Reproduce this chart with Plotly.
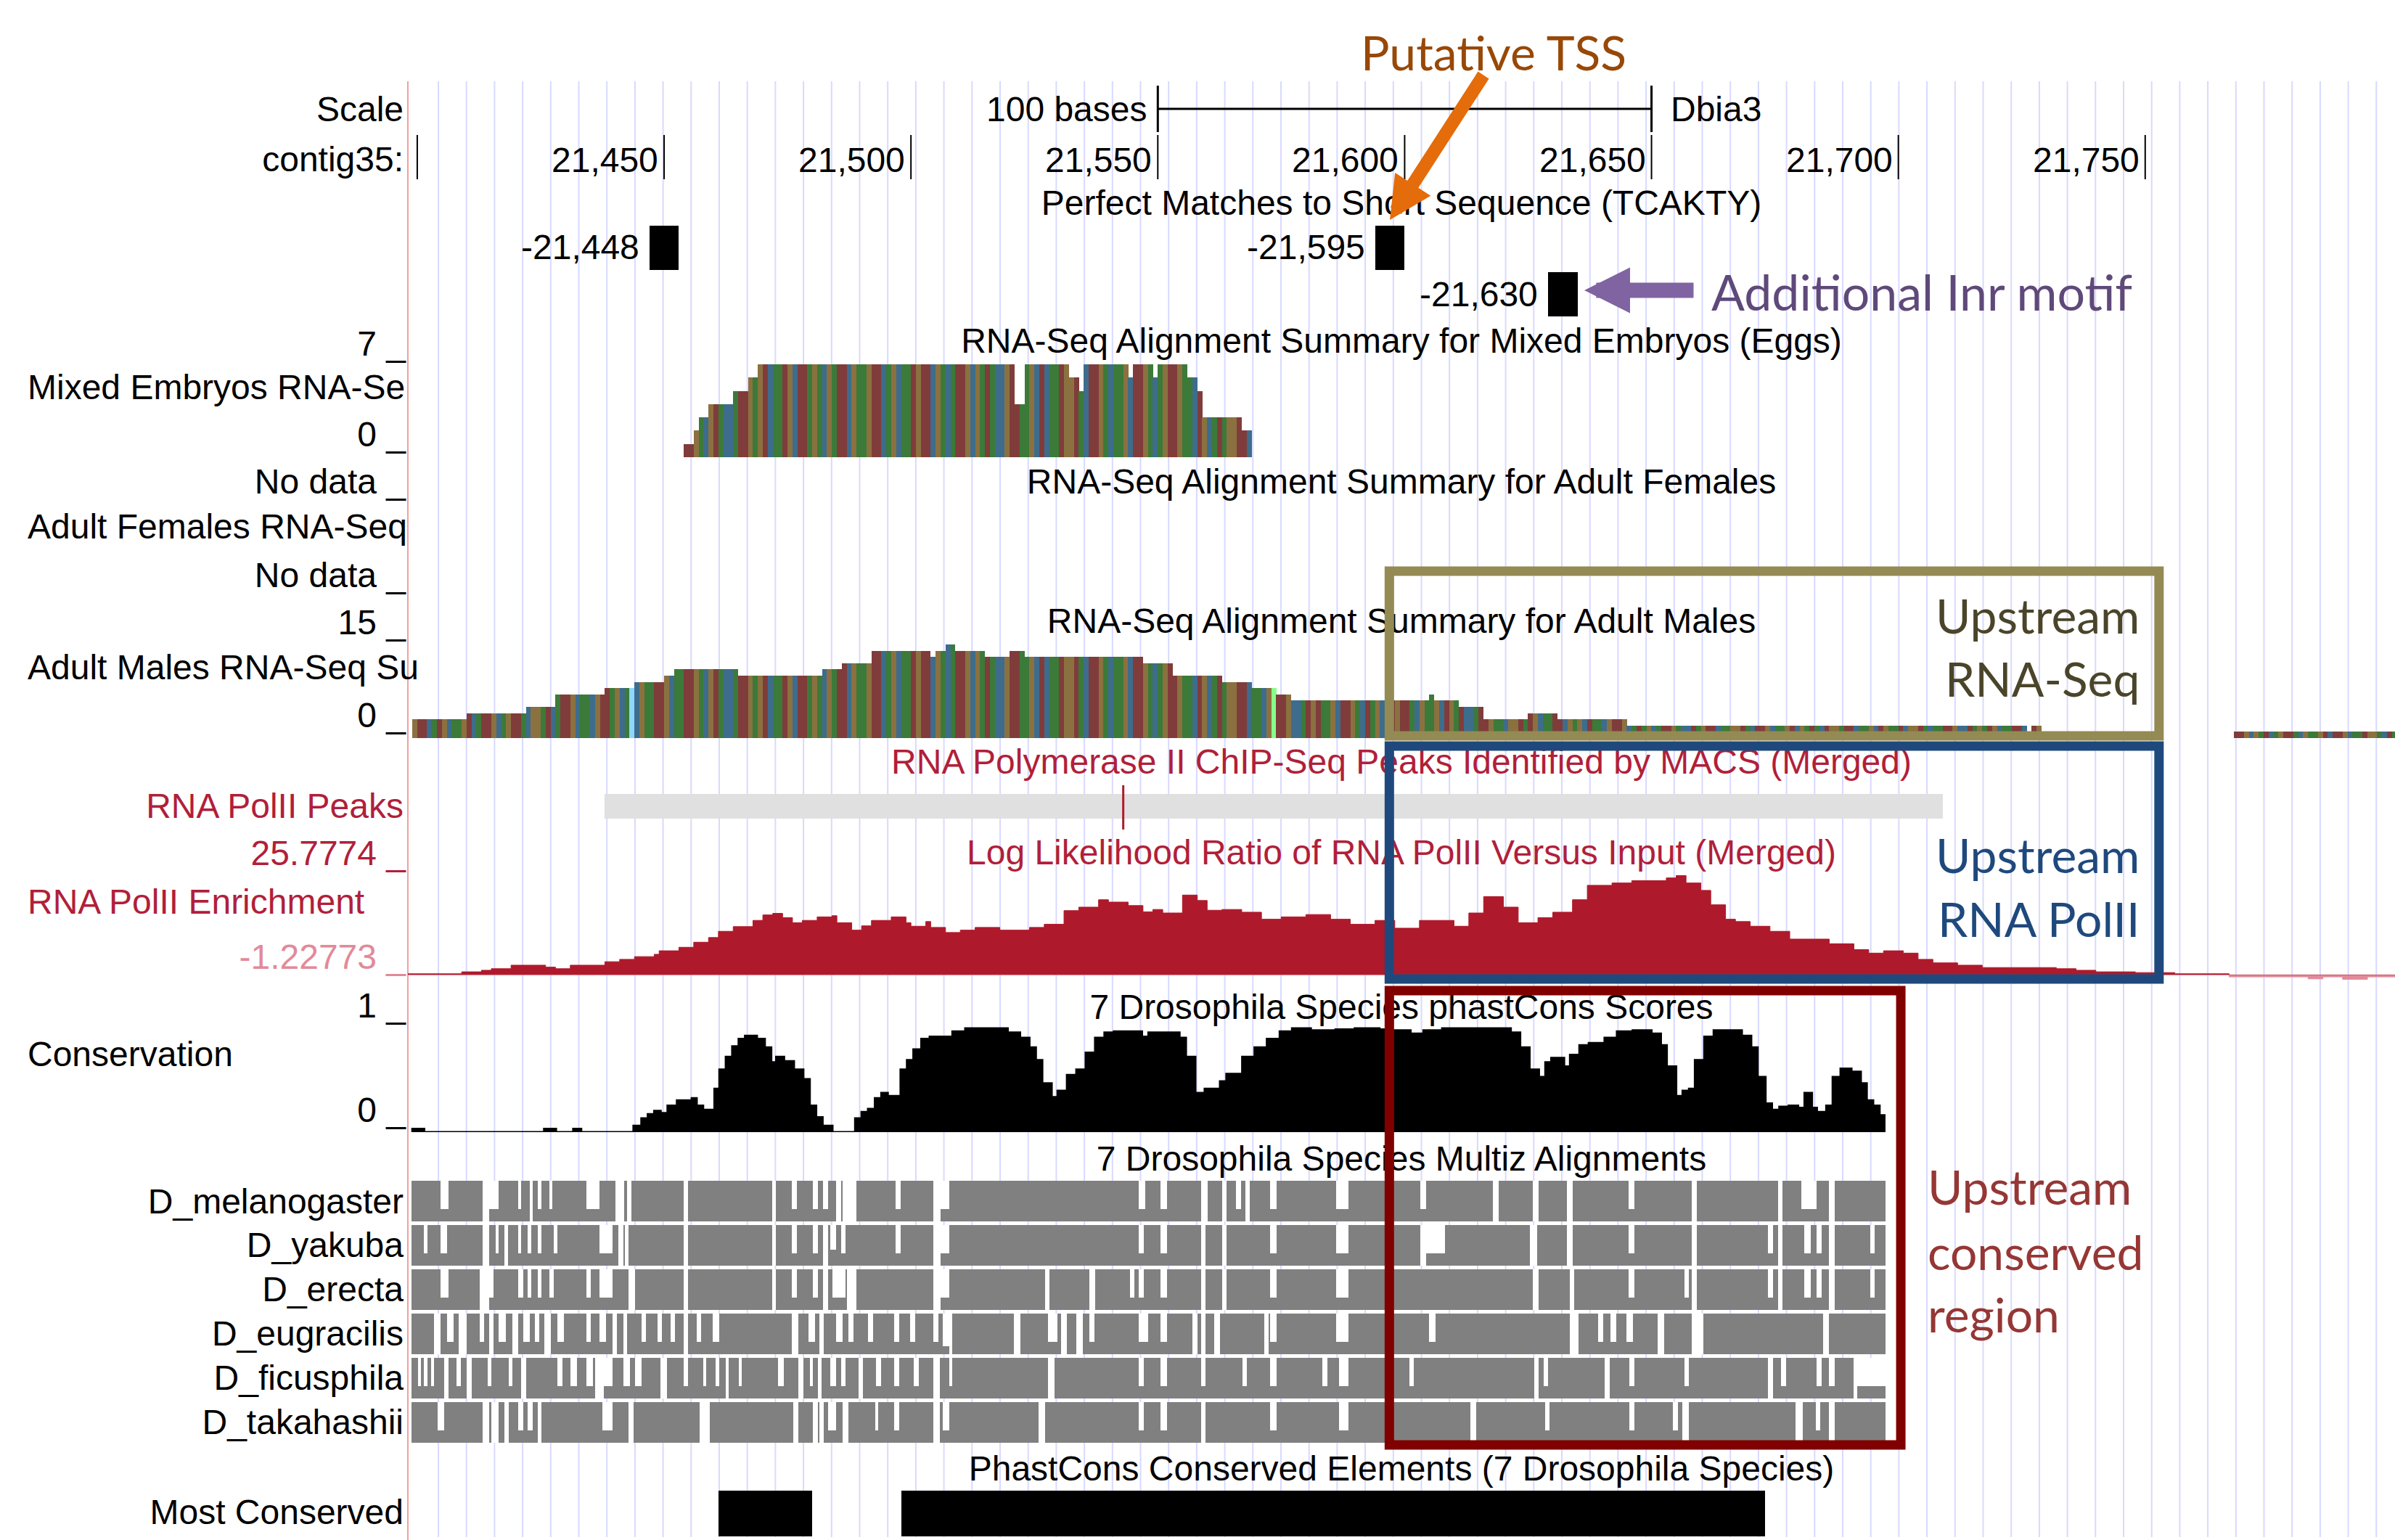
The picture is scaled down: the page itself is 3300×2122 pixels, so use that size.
import plotly.graph_objects as go

# ------------------------------------------------------------------ data
view_start = 21398.1
view_end = 21800.6

ruler_ticks = [21400, 21450, 21500, 21550, 21600, 21650, 21700, 21750]
ruler_labels = ["", "21,450", "21,500", "21,550", "21,600", "21,650", "21,700", "21,750"]
scale_bar = [21550, 21650]
scale_text = "100 bases"
assembly_text = "Dbia3"
chrom_text = "contig35:"

# Perfect matches to TCAKTY
match_pos = [21448, 21595, 21630]
match_row = [0, 0, 1]
match_labels = ["-21,448", "-21,595", "-21,630"]
motif_len = 6

# reference bases (colour of the RNA-seq coverage bars), first base = seq_start
seq_start = 21399
ref_sequence = (
    "GTTCATGCAAGTCATTGCAGTTACGGATCATTGCAACGTTAGCATCGAAT"
    "TGCAATTGACGTACCATTGAGTCAATGCTTAGACGATTCGAAGTTCAGCA"
    "ATGTTCGACATTGCGATACCGTTAAGCTCAATGGTACTTGACAAGCTTGA"
    "CAGTTGAACTGCATAGGTTCAACGATTGCCATGTAAGCTTGACTAGCATG"
    "TTACGAAGCTGATCCATTGAACGGTATGCAATTCGAGCTAACGTTGCATA"
    "GCATTGACCTAGTTCAAGGTACTTGCAAGTCGATACTGGATTCAAGCTGA"
    "ATCGGTACAATTGCCTAGATGCAATTCGTGAAGCTTACGATCAAGTGCTA"
    "CGTTAAGCATGCTTGACAATTGCGATCAGTTACGAAGTCTTGCAATGGAC"
    "TAGCATTGACGTTCAAGCTGAATCGTACCATGGATTGCAAGTTCGACATG"
)

# RNA-seq coverage, mixed embryos (runs: start, end, depth)
embryo_start = [21454, 21456, 21457, 21459, 21464, 21467, 21469, 21521, 21523, 21532,
                21534, 21535, 21544, 21545, 21549, 21550, 21556, 21558, 21559, 21567]
embryo_end = [21456, 21457, 21459, 21464, 21467, 21469, 21521, 21523, 21532, 21534,
              21535, 21544, 21545, 21549, 21550, 21556, 21558, 21559, 21567, 21569]
embryo_value = [1, 2, 3, 4, 5, 6, 7, 4, 7, 6, 5, 7, 6, 7, 6, 7, 6, 5, 3, 2]

# RNA-seq coverage, adult males
male_start = [21399, 21410, 21422, 21428, 21438, 21444, 21450, 21452, 21465, 21482,
              21486, 21492, 21504, 21505, 21507, 21509, 21515, 21520, 21523, 21547,
              21553, 21563, 21569, 21574, 21577, 21605, 21606, 21611, 21616, 21625,
              21631, 21645, 21726, 21727, 21729, 21768]
male_end = [21410, 21422, 21428, 21438, 21444, 21450, 21452, 21465, 21482, 21486,
            21492, 21504, 21505, 21507, 21509, 21515, 21520, 21523, 21547, 21553,
            21563, 21569, 21574, 21577, 21605, 21606, 21611, 21616, 21625, 21631,
            21645, 21726, 21727, 21729, 21750, 21801]
male_value = [3, 4, 5, 7, 8, 9, 10, 11, 10, 11, 12, 14, 13, 14, 15, 14, 13, 14, 13, 12,
              10, 9, 8, 7, 6, 7, 6, 5, 3, 4, 3, 2, 1, 2, 1, 1]
male_mismatch_pos = [21443, 21573]
male_mismatch_color = ["#8fd6ff", "#86ff8a"]

# RNA PolII MACS peak
peak_start, peak_end, peak_summit = 21438, 21709, 21543

# RNA PolII log-likelihood enrichment (step starts and values)
pol2_pos = [21398.1, 21409, 21413, 21415, 21419, 21426, 21428, 21431, 21438, 21441,
            21444, 21448, 21449, 21453, 21456, 21459, 21461, 21464, 21468, 21470,
            21472, 21474, 21476, 21478, 21481, 21484, 21485, 21488, 21490, 21492,
            21496, 21499, 21500, 21503, 21504, 21507, 21510, 21513, 21518, 21524,
            21527, 21531, 21534, 21538, 21540, 21544, 21547, 21549, 21551, 21555,
            21558, 21560, 21563, 21567, 21571, 21575, 21580, 21585, 21589, 21594,
            21598, 21603, 21610, 21613, 21616, 21620, 21623, 21627, 21630, 21634,
            21637, 21642, 21646, 21653, 21655, 21657, 21660, 21662, 21665, 21667,
            21670, 21674, 21678, 21686, 21691, 21694, 21697, 21701, 21704, 21707,
            21712, 21717, 21732, 21736, 21740, 21748, 21756, 21767, 21783, 21786,
            21790, 21795]
pol2_val = [0.3, 0.8, 1.2, 1.6, 2.5, 2.0, 1.6, 2.5, 3.4, 4.0,
            4.7, 5.3, 6.2, 7.1, 8.4, 9.6, 11.2, 12.4, 14.0, 15.4,
            15.8, 14.7, 13.4, 14.0, 14.9, 15.2, 13.4, 11.5, 12.6, 14.0,
            14.9, 13.4, 12.5, 13.7, 12.2, 10.9, 11.5, 12.2, 11.5, 12.2,
            13.0, 16.5, 17.4, 19.3, 18.7, 17.8, 16.2, 16.8, 15.9, 20.5,
            19.1, 16.6, 16.8, 16.1, 14.3, 14.9, 15.5, 14.3, 13.0, 14.0,
            12.0, 14.0, 12.5, 15.9, 20.1, 17.4, 13.4, 14.7, 16.1, 19.3,
            23.0, 23.6, 24.2, 24.9, 25.5, 23.6, 21.7, 18.0, 14.3, 13.7,
            12.5, 11.2, 9.2, 8.0, 6.5, 5.6, 6.2, 5.6, 4.0, 3.1,
            2.5, 1.9, 1.6, 1.2, 0.8, 0.6, 0.3, -0.5, -1.0, -0.5,
            -1.2, -0.5]
pol2_end = 21800.6
pol2_min, pol2_max = -1.22773, 25.7774

# phastCons scores (step starts and values)
cons_pos = [21398.8, 21401.4, 21425.7, 21428.1, 21431.6, 21433.2, 21443.8, 21445.4, 21446.7, 21448.0,
            21449.3, 21450.7, 21452.6, 21455.6, 21456.6, 21457.9, 21460.2, 21461.2, 21462.5, 21463.8,
            21465.1, 21466.4, 21468.8, 21470.4, 21471.7, 21472.7, 21474.3, 21476.3, 21478.2, 21479.5,
            21480.8, 21482.1, 21484.1, 21488.7, 21490.0, 21491.3, 21492.7, 21494.0, 21495.3, 21497.9,
            21499.2, 21500.5, 21502.1, 21503.8, 21508.4, 21511.0, 21519.6, 21522.1, 21524.0, 21525.3,
            21526.6, 21528.5, 21529.7, 21531.6, 21533.5, 21535.4, 21537.3, 21539.2, 21541.1, 21546.8,
            21548.1, 21554.4, 21555.7, 21557.6, 21559.5, 21562.6, 21563.9, 21567.1, 21569.6, 21572.1,
            21574.7, 21577.2, 21581.0, 21586.0, 21589.9, 21594.9, 21597.4, 21601.2, 21603.8, 21607.6,
            21621.5, 21623.4, 21625.3, 21627.2, 21628.5, 21629.7, 21632.3, 21633.5, 21635.4, 21637.3,
            21640.5, 21643.0, 21646.2, 21650.0, 21651.9, 21653.1, 21655.0, 21656.3, 21657.6, 21658.8,
            21660.7, 21662.6, 21668.3, 21670.2, 21671.5, 21673.1, 21674.4, 21675.9, 21677.8, 21679.7,
            21681.0, 21682.5, 21683.5, 21685.4, 21686.7, 21688.3, 21690.5, 21692.4, 21693.6, 21694.9,
            21696.2]
cons_val = [0.03, 0.0, 0.03, 0.0, 0.03, 0.0, 0.06, 0.13, 0.17, 0.20,
            0.18, 0.25, 0.30, 0.32, 0.25, 0.21, 0.41, 0.59, 0.71, 0.81,
            0.88, 0.91, 0.88, 0.80, 0.66, 0.71, 0.67, 0.59, 0.50, 0.25,
            0.14, 0.06, 0.0, 0.13, 0.19, 0.22, 0.32, 0.37, 0.34, 0.59,
            0.68, 0.78, 0.88, 0.90, 0.95, 0.98, 0.94, 0.89, 0.80, 0.68,
            0.46, 0.33, 0.39, 0.54, 0.59, 0.75, 0.89, 0.94, 0.95, 0.90,
            0.94, 0.89, 0.71, 0.37, 0.41, 0.48, 0.55, 0.71, 0.80, 0.88,
            0.95, 0.98, 0.96, 0.97, 0.98, 0.97, 0.96, 0.93, 0.96, 0.98,
            0.94, 0.80, 0.59, 0.52, 0.66, 0.70, 0.62, 0.73, 0.82, 0.84,
            0.89, 0.95, 0.96, 0.93, 0.82, 0.62, 0.34, 0.39, 0.41, 0.68,
            0.90, 0.96, 0.91, 0.80, 0.52, 0.27, 0.21, 0.24, 0.25, 0.23,
            0.37, 0.23, 0.19, 0.25, 0.52, 0.60, 0.57, 0.46, 0.30, 0.25,
            0.16]
cons_end = 21697.4

# Multiz alignments: aligned span and gaps (start, end, remaining height)
species = ["D_melanogaster", "D_yakuba", "D_erecta", "D_eugracilis", "D_ficusphila", "D_takahashii"]
aln_start, aln_end = 21398.8, 21697.4
gaps_melanogaster = [
    (21404.7, 21406.3, 0.3), (21413.2, 21414.6, 0.0), (21414.6, 21416.5, 0.3), (21420.5, 21421.1, 0.3),
    (21422.8, 21423.4, 0.0), (21424.4, 21425.1, 0.3), (21426.8, 21427.4, 0.3), (21434.2, 21436.9, 0.3),
    (21440.2, 21441.9, 0.0), (21442.5, 21443.4, 0.0), (21453.9, 21454.9, 0.0), (21471.9, 21472.7, 0.0),
    (21475.9, 21476.9, 0.3), (21480.2, 21481.1, 0.3), (21482.2, 21483.2, 0.3), (21484.8, 21485.8, 0.0),
    (21486.1, 21489.0, 0.0), (21496.9, 21497.9, 0.3), (21504.5, 21506.0, 0.0), (21506.0, 21507.7, 0.3),
    (21546.2, 21547.5, 0.3), (21550.6, 21551.9, 0.3), (21558.8, 21560.1, 0.0), (21563.0, 21563.9, 0.0),
    (21565.8, 21566.8, 0.3), (21567.7, 21568.6, 0.0), (21572.8, 21574.0, 0.3), (21586.1, 21588.6, 0.3),
    (21603.1, 21604.4, 0.3), (21617.9, 21619.0, 0.0), (21625.9, 21627.2, 0.0), (21632.9, 21634.1, 0.0),
    (21645.3, 21646.6, 0.3), (21658.2, 21659.2, 0.0), (21675.7, 21676.6, 0.0), (21680.4, 21683.5, 0.3),
    (21686.0, 21687.1, 0.0)]
gaps_yakuba = [
    (21401.4, 21402.1, 0.3), (21404.7, 21406.0, 0.3), (21413.2, 21414.6, 0.0), (21415.9, 21416.5, 0.3),
    (21417.6, 21418.4, 0.0), (21420.5, 21421.1, 0.3), (21422.4, 21423.1, 0.3), (21424.4, 21425.2, 0.3),
    (21427.7, 21428.4, 0.3), (21436.9, 21439.5, 0.3), (21440.8, 21441.7, 0.0), (21442.1, 21442.8, 0.0),
    (21453.9, 21454.9, 0.0), (21471.9, 21472.7, 0.0), (21475.9, 21476.9, 0.3), (21480.2, 21481.1, 0.3),
    (21482.2, 21483.2, 0.0), (21483.7, 21484.8, 0.4), (21485.8, 21486.7, 0.3), (21496.9, 21497.9, 0.3),
    (21504.5, 21506.0, 0.0), (21506.0, 21507.7, 0.3), (21546.2, 21547.1, 0.3), (21550.6, 21551.9, 0.3),
    (21558.8, 21559.7, 0.0), (21563.0, 21563.9, 0.0), (21572.8, 21574.0, 0.3), (21586.1, 21588.6, 0.3),
    (21603.1, 21604.4, 0.0), (21604.4, 21608.2, 0.3), (21625.3, 21626.8, 0.0), (21632.9, 21634.1, 0.0),
    (21645.3, 21646.6, 0.3), (21658.2, 21659.2, 0.0), (21673.6, 21674.6, 0.3), (21675.7, 21676.6, 0.0),
    (21681.0, 21682.2, 0.3), (21683.5, 21684.5, 0.3), (21686.0, 21687.1, 0.0), (21694.3, 21695.2, 0.3)]
gaps_erecta = [
    (21404.7, 21406.3, 0.3), (21412.6, 21414.6, 0.0), (21414.6, 21415.5, 0.3), (21420.5, 21421.5, 0.3),
    (21422.4, 21423.1, 0.3), (21424.4, 21425.2, 0.3), (21426.8, 21427.7, 0.3), (21434.2, 21435.2, 0.3),
    (21436.9, 21439.5, 0.3), (21442.8, 21444.1, 0.0), (21453.9, 21454.9, 0.0), (21471.9, 21472.7, 0.0),
    (21475.9, 21476.9, 0.3), (21480.2, 21481.1, 0.3), (21482.2, 21483.2, 0.0), (21484.1, 21486.7, 0.3),
    (21487.1, 21489.0, 0.0), (21504.5, 21506.0, 0.0), (21506.0, 21507.7, 0.3), (21527.2, 21528.1, 0.0),
    (21536.1, 21537.3, 0.0), (21544.3, 21545.3, 0.3), (21546.2, 21547.1, 0.3), (21550.6, 21551.9, 0.3),
    (21558.8, 21559.7, 0.0), (21563.0, 21563.9, 0.0), (21572.8, 21574.0, 0.3), (21586.1, 21588.6, 0.3),
    (21625.9, 21627.2, 0.0), (21633.5, 21634.4, 0.0), (21645.3, 21646.6, 0.3), (21656.7, 21657.6, 0.3),
    (21658.2, 21659.2, 0.0), (21673.6, 21674.6, 0.3), (21675.7, 21676.6, 0.0), (21681.0, 21682.2, 0.3),
    (21683.5, 21684.5, 0.3), (21686.0, 21687.1, 0.0), (21694.3, 21695.2, 0.3)]
gaps_eugracilis = [
    (21403.4, 21404.7, 0.0), (21406.0, 21407.4, 0.3), (21408.4, 21410.0, 0.0), (21412.6, 21413.6, 0.3),
    (21414.6, 21415.5, 0.0), (21416.5, 21417.9, 0.3), (21419.2, 21420.5, 0.0), (21421.5, 21422.8, 0.3),
    (21423.8, 21424.7, 0.3), (21425.7, 21427.0, 0.0), (21428.4, 21429.7, 0.3), (21434.2, 21435.2, 0.3),
    (21436.9, 21438.2, 0.3), (21439.5, 21440.4, 0.0), (21441.7, 21442.5, 0.0), (21445.4, 21446.3, 0.3),
    (21448.7, 21449.6, 0.3), (21451.3, 21452.2, 0.3), (21453.9, 21454.9, 0.0), (21456.6, 21457.5, 0.3),
    (21459.8, 21461.2, 0.3), (21475.9, 21477.2, 0.0), (21479.3, 21480.6, 0.3), (21481.5, 21482.4, 0.0),
    (21484.8, 21486.1, 0.3), (21487.4, 21488.4, 0.3), (21491.3, 21492.4, 0.3), (21496.6, 21497.6, 0.3),
    (21499.9, 21500.8, 0.3), (21504.5, 21505.5, 0.3), (21506.4, 21507.7, 0.2), (21507.7, 21508.4, 0.0),
    (21520.9, 21522.1, 0.0), (21527.8, 21529.7, 0.3), (21530.4, 21531.6, 0.0), (21533.5, 21534.8, 0.0),
    (21536.1, 21537.1, 0.3), (21546.2, 21548.1, 0.3), (21550.6, 21551.9, 0.3), (21557.0, 21558.0, 0.0),
    (21558.8, 21559.7, 0.0), (21561.4, 21562.6, 0.0), (21571.5, 21572.4, 0.0), (21572.8, 21574.0, 0.3),
    (21586.1, 21588.6, 0.3), (21605.0, 21606.3, 0.3), (21633.5, 21635.2, 0.0), (21639.2, 21640.2, 0.3),
    (21641.7, 21642.8, 0.3), (21644.9, 21646.2, 0.3), (21651.2, 21652.5, 0.0), (21658.2, 21660.5, 0.0),
    (21684.8, 21686.0, 0.0)]
gaps_ficusphila = [
    (21400.1, 21400.8, 0.3), (21401.4, 21402.1, 0.3), (21402.8, 21403.4, 0.3), (21405.4, 21406.3, 0.0),
    (21408.0, 21408.9, 0.3), (21410.0, 21411.0, 0.0), (21414.2, 21415.0, 0.3), (21418.5, 21419.2, 0.3),
    (21421.1, 21422.1, 0.0), (21428.4, 21429.4, 0.3), (21431.0, 21432.3, 0.3), (21434.2, 21435.6, 0.3),
    (21436.0, 21437.8, 0.0), (21437.8, 21439.5, 0.3), (21441.7, 21443.1, 0.3), (21444.1, 21445.4, 0.3),
    (21449.3, 21450.6, 0.0), (21453.9, 21454.9, 0.3), (21457.9, 21458.5, 0.3), (21460.5, 21461.2, 0.3),
    (21462.5, 21463.1, 0.0), (21465.1, 21465.7, 0.3), (21473.0, 21474.3, 0.3), (21477.2, 21478.2, 0.0),
    (21479.5, 21480.2, 0.3), (21481.1, 21481.9, 0.0), (21483.7, 21484.8, 0.3), (21485.8, 21486.7, 0.3),
    (21489.4, 21490.3, 0.0), (21492.9, 21494.0, 0.3), (21496.6, 21497.6, 0.3), (21500.5, 21501.6, 0.3),
    (21504.5, 21505.8, 0.0), (21507.7, 21508.4, 0.3), (21527.8, 21529.1, 0.0), (21546.2, 21547.1, 0.3),
    (21550.6, 21551.9, 0.3), (21558.8, 21559.7, 0.3), (21567.1, 21568.1, 0.3), (21572.8, 21574.0, 0.3),
    (21583.3, 21584.3, 0.3), (21586.7, 21588.6, 0.3), (21601.0, 21601.9, 0.3), (21626.3, 21627.2, 0.0),
    (21628.1, 21629.1, 0.3), (21640.5, 21641.5, 0.0), (21645.5, 21646.6, 0.3), (21656.7, 21657.6, 0.3),
    (21673.6, 21674.6, 0.0), (21676.2, 21677.2, 0.3), (21683.5, 21684.5, 0.3), (21686.0, 21687.1, 0.3),
    (21690.9, 21691.7, 0.0), (21691.7, 21697.4, 0.3)]
gaps_takahashii = [
    (21404.1, 21405.4, 0.3), (21413.2, 21414.6, 0.0), (21415.0, 21416.5, 0.0), (21417.6, 21418.5, 0.0),
    (21420.5, 21421.5, 0.3), (21422.4, 21423.4, 0.3), (21424.4, 21425.2, 0.0), (21437.5, 21439.5, 0.3),
    (21442.8, 21443.8, 0.0), (21457.2, 21459.2, 0.0), (21476.2, 21477.2, 0.0), (21480.2, 21481.1, 0.0),
    (21481.5, 21482.4, 0.0), (21483.2, 21484.8, 0.3), (21486.1, 21487.4, 0.0), (21492.7, 21493.3, 0.3),
    (21496.6, 21497.6, 0.3), (21504.5, 21505.8, 0.0), (21506.4, 21507.7, 0.3), (21525.9, 21527.2, 0.0),
    (21546.2, 21547.1, 0.3), (21550.6, 21551.9, 0.3), (21558.8, 21559.7, 0.0), (21572.8, 21574.0, 0.3),
    (21586.7, 21588.6, 0.3), (21613.3, 21614.5, 0.0), (21628.5, 21629.3, 0.3), (21645.5, 21646.6, 0.3),
    (21654.4, 21655.4, 0.3), (21656.3, 21657.6, 0.0), (21679.1, 21680.7, 0.0), (21683.3, 21684.1, 0.3),
    (21686.0, 21687.1, 0.0)]
species_gaps = [gaps_melanogaster, gaps_yakuba, gaps_erecta, gaps_eugracilis, gaps_ficusphila, gaps_takahashii]

# phastCons most-conserved elements
most_conserved_start = [21461, 21498]
most_conserved_end = [21480, 21673]

# highlighted regions (annotation boxes)
box_start = 21596.9
box_end_upper = 21752.8
box_end_cons = 21700.5

# ------------------------------------------------------------------ style
W, H = 3300, 2122
PANEL_LEFT = 562
FONT = "Liberation Sans, Arial, Helvetica, sans-serif"
FS = 48
OFONT = "Lato, Open Sans, sans-serif"
OFS = 66
BLACK = "#000000"
RED = "#b11f3a"
RED_FILL = "#ae1a2b"
PINK = "#e28a99"
GREY = "#808080"
BASE_COLORS = {"A": "#3b7a39", "C": "#3e6c8c", "G": "#8b7140", "T": "#803c3a"}
TY = 3  # vertical nudge for label text


def fy(px):
    return 1 - px / H


fig = go.Figure()
axes = {}


def add_y(name, top, bottom, rng):
    axes[name] = dict(domain=[fy(bottom), fy(top)], range=rng, visible=False,
                      anchor="x", fixedrange=True)


add_y("yaxis", 100, 260, [260, 100])           # header (scale + ruler), pixel-like units
add_y("yaxis2", 308.5, 437.5, [1.5, -0.5])     # perfect matches
add_y("yaxis3", 502, 630, [0, 7])              # mixed embryos
add_y("yaxis4", 888, 1017, [0, 15])            # adult males
add_y("yaxis5", 1082, 1143, [0, 1])            # PolII peaks
add_y("yaxis6", 1205, 1350, [pol2_min, pol2_max])  # PolII enrichment
add_y("yaxis7", 1414, 1560, [0, 1])            # conservation
row_tops = [1627, 1688, 1749, 1810, 1871, 1932]
for i, t in enumerate(row_tops):
    add_y("yaxis%d" % (8 + i), t, t + 56, [0, 1])
add_y("yaxis14", 2054, 2117, [0, 1])           # most conserved
axes["yaxis15"] = dict(domain=[0, 1], range=[H, 0], visible=False, anchor="x2", fixedrange=True)

# ---- header: scale bar and ruler
sx = [scale_bar[0], scale_bar[0], None, scale_bar[0], scale_bar[1], None, scale_bar[1], scale_bar[1]]
sy = [118, 182, None, 150, 150, None, 118, 182]
fig.add_trace(go.Scatter(x=sx, y=sy, mode="lines", line=dict(color=BLACK, width=3),
                         xaxis="x", yaxis="y", hoverinfo="skip"))
rx, ry = [], []
for t in ruler_ticks:
    rx += [t, t, None]
    ry += [186, 247, None]
fig.add_trace(go.Scatter(x=rx, y=ry, mode="lines", line=dict(color=BLACK, width=2),
                         xaxis="x", yaxis="y", hoverinfo="skip"))

# ---- perfect matches
fig.add_trace(go.Bar(orientation="h", y=match_row, x=[motif_len] * len(match_pos),
                     base=[p - 1 for p in match_pos], width=0.94,
                     marker=dict(color=BLACK, line=dict(width=0)),
                     xaxis="x", yaxis="y2", hoverinfo="skip"))


# ---- RNA-seq coverage
def expand(starts, ends, vals):
    xs, ys, cs = [], [], []
    for s, e, v in zip(starts, ends, vals):
        for b in range(s, e):
            xs.append(b + 0.5)
            ys.append(v)
            cs.append(BASE_COLORS[ref_sequence[b - seq_start]])
    return xs, ys, cs


ex, ey, ec = expand(embryo_start, embryo_end, embryo_value)
fig.add_trace(go.Bar(x=ex, y=ey, width=1.02, marker=dict(color=ec, line=dict(width=0)),
                     xaxis="x", yaxis="y3", hoverinfo="skip"))
mx, my, mc = expand(male_start, male_end, male_value)
for p, c in zip(male_mismatch_pos, male_mismatch_color):
    if p + 0.5 in mx:
        mc[mx.index(p + 0.5)] = c
fig.add_trace(go.Bar(x=mx, y=my, width=1.02, marker=dict(color=mc, line=dict(width=0)),
                     xaxis="x", yaxis="y4", hoverinfo="skip"))

# ---- PolII peaks
fig.add_trace(go.Bar(x=[(peak_start + peak_end) / 2], y=[0.557], base=[0.246],
                     width=[peak_end - peak_start], marker=dict(color="#e0e0e0", line=dict(width=0)),
                     xaxis="x", yaxis="y5", hoverinfo="skip"))
fig.add_trace(go.Scatter(x=[peak_summit, peak_summit], y=[0, 1], mode="lines",
                         line=dict(color=RED_FILL, width=3), xaxis="x", yaxis="y5", hoverinfo="skip"))

# ---- PolII enrichment
px_ = pol2_pos + [pol2_end]
pos_y = [max(v, 0) for v in pol2_val] + [max(pol2_val[-1], 0)]
neg_y = [min(v, 0) for v in pol2_val] + [min(pol2_val[-1], 0)]
fig.add_trace(go.Scatter(x=px_, y=pos_y, mode="lines", line=dict(color=RED_FILL, width=1, shape="hv"),
                         fill="tozeroy", fillcolor=RED_FILL, xaxis="x", yaxis="y6", hoverinfo="skip"))
fig.add_trace(go.Scatter(x=px_, y=neg_y, mode="lines", line=dict(color=PINK, width=1, shape="hv"),
                         fill="tozeroy", fillcolor=PINK, xaxis="x", yaxis="y6", hoverinfo="skip"))

# ---- conservation
fig.add_trace(go.Scatter(x=cons_pos + [cons_end], y=cons_val + [cons_val[-1]], mode="lines",
                         line=dict(color=BLACK, width=3, shape="hv"), fill="tozeroy", fillcolor=BLACK,
                         xaxis="x", yaxis="y7", hoverinfo="skip"))

# ---- multiz rows
for i, gaps in enumerate(species_gaps):
    yref = "y%d" % (8 + i)
    fig.add_trace(go.Bar(x=[(aln_start + aln_end) / 2], y=[1], base=[0], width=[aln_end - aln_start],
                         marker=dict(color=GREY, line=dict(width=0)), xaxis="x", yaxis=yref,
                         hoverinfo="skip"))
    fig.add_trace(go.Bar(x=[(g[0] + g[1]) / 2 for g in gaps], y=[1.02 - g[2] for g in gaps],
                         base=[g[2] for g in gaps], width=[g[1] - g[0] for g in gaps],
                         marker=dict(color="white", line=dict(width=0)), xaxis="x", yaxis=yref,
                         hoverinfo="skip"))

# ---- most conserved
fig.add_trace(go.Bar(x=[(s + e) / 2 for s, e in zip(most_conserved_start, most_conserved_end)],
                     y=[1] * len(most_conserved_start), base=[0] * len(most_conserved_start),
                     width=[e - s for s, e in zip(most_conserved_start, most_conserved_end)],
                     marker=dict(color=BLACK, line=dict(width=0)), xaxis="x", yaxis="y14",
                     hoverinfo="skip"))


# ---- text labels (overlay pixel axis)
def text_trace(items, pos, color=BLACK, size=FS, family=FONT):
    fig.add_trace(go.Scatter(x=[it[0] for it in items], y=[it[1] + TY for it in items],
                             text=[it[2] for it in items], mode="text", textposition=pos,
                             textfont=dict(family=family, size=size, color=color),
                             xaxis="x2", yaxis="y15", hoverinfo="skip", cliponaxis=False))


RA = 556
text_trace([(RA, 152, "Scale"), (RA, 221, chrom_text),
            (RA + 3, 475, "7 _"), (RA + 3, 600, "0 _"), (RA + 3, 665, "No data _"),
            (RA + 3, 794, "No data _"), (RA + 3, 859, "15 _"), (RA + 3, 987, "0 _"),
            (RA + 3, 1387, "1 _"), (RA + 3, 1531, "0 _"),
            (RA, 1657, species[0]), (RA, 1717, species[1]), (RA, 1778, species[2]),
            (RA, 1839, species[3]), (RA, 1900, species[4]), (RA, 1961, species[5]),
            (RA, 2085, "Most Conserved")], "middle left")
text_trace([(RA, 1112, "RNA PolII Peaks"), (RA + 3, 1177, "25.7774 _")], "middle left", color=RED)
text_trace([(RA + 3, 1320, "-1.22773 _")], "middle left", color=PINK)
text_trace([(38, 535, "Mixed Embryos RNA-Se"), (38, 727, "Adult Females RNA-Seq"),
            (38, 921, "Adult Males RNA-Seq Su"), (38, 1454, "Conservation")], "middle right")
text_trace([(38, 1244, "RNA PolII Enrichment")], "middle right", color=RED)
CX = (PANEL_LEFT + W) / 2
text_trace([(CX, 281, "Perfect Matches to Short Sequence (TCAKTY)"),
            (CX, 471, "RNA-Seq Alignment Summary for Mixed Embryos (Eggs)"),
            (CX, 665, "RNA-Seq Alignment Summary for Adult Females"),
            (CX, 857, "RNA-Seq Alignment Summary for Adult Males"),
            (CX, 1389, "7 Drosophila Species phastCons Scores"),
            (CX, 1598, "7 Drosophila Species Multiz Alignments"),
            (CX, 2025, "PhastCons Conserved Elements (7 Drosophila Species)")], "middle center")
text_trace([(CX, 1051, "RNA Polymerase II ChIP-Seq Peaks Identified by MACS (Merged)"),
            (CX, 1176, "Log Likelihood Ratio of RNA PolII Versus Input (Merged)")],
           "middle center", color=RED)

annotations = []
# ruler labels, scale labels, match labels (data-anchored)
for t, lab in zip(ruler_ticks, ruler_labels):
    if lab:
        annotations.append(dict(x=t, y=221, xref="x", yref="y", text=lab, showarrow=False,
                                xanchor="right", yanchor="middle", xshift=-6,
                                font=dict(family=FONT, size=FS, color=BLACK)))
annotations.append(dict(x=scale_bar[0], y=151, xref="x", yref="y", text=scale_text, showarrow=False,
                        xanchor="right", yanchor="middle", xshift=-12,
                        font=dict(family=FONT, size=FS, color=BLACK)))
annotations.append(dict(x=scale_bar[1], y=151, xref="x", yref="y", text=assembly_text, showarrow=False,
                        xanchor="left", yanchor="middle", xshift=24,
                        font=dict(family=FONT, size=FS, color=BLACK)))
for p, r, lab in zip(match_pos, match_row, match_labels):
    annotations.append(dict(x=p - 1, y=r, xref="x", yref="y2", text=lab, showarrow=False,
                            xanchor="right", yanchor="middle", xshift=-12,
                            font=dict(family=FONT, size=FS, color=BLACK)))


def ptext(x, y, text, color, anchor, size=OFS):
    annotations.append(dict(x=x / W, y=fy(y), xref="paper", yref="paper", text=text,
                            showarrow=False, xanchor=anchor, yanchor="middle",
                            font=dict(family=OFONT, size=size, color=color)))


ptext(2058, 72, "Putative TSS", "#984807", "center")
ptext(2356, 402, "Additional Inr motif", "#5f497a", "left", size=68)
ptext(2950, 847, "Upstream", "#4a452a", "right")
ptext(2950, 934, "RNA-Seq", "#4a452a", "right")
ptext(2950, 1177, "Upstream", "#1f497d", "right")
ptext(2950, 1265, "RNA PolII", "#1f497d", "right")
ptext(2654, 1634, "Upstream", "#953735", "left")
ptext(2654, 1724, "conserved", "#953735", "left")
ptext(2654, 1810, "region", "#953735", "left")

# arrows
annotations.append(dict(x=1915 / W, y=fy(303), xref="paper", yref="paper", text="", showarrow=True,
                        ax=130, ay=-201, arrowcolor="#e46c0a", arrowwidth=18, arrowhead=2,
                        arrowsize=0.65, standoff=0))
annotations.append(dict(x=2183 / W, y=fy(400), xref="paper", yref="paper", text="", showarrow=True,
                        ax=152, ay=0, arrowcolor="#8064a2", arrowwidth=21, arrowhead=2,
                        arrowsize=0.6, standoff=0))

# ---- shapes: guidelines, panel edge, boxes
shapes = []
gx = 604.0
while gx < W:
    shapes.append(dict(type="line", xref="paper", yref="paper", x0=gx / W, x1=gx / W,
                       y0=fy(2118), y1=fy(112), line=dict(color="#d9d9ff", width=2), layer="below"))
    gx += 38.7
shapes.append(dict(type="line", xref="paper", yref="paper", x0=PANEL_LEFT / W, x1=PANEL_LEFT / W,
                   y0=fy(2122), y1=fy(112), line=dict(color="#f2a0a0", width=2), layer="below"))
shapes.append(dict(type="rect", xref="x", yref="paper", x0=box_start, x1=box_end_upper,
                   y0=fy(1014), y1=fy(787), line=dict(color="#948a54", width=13)))
shapes.append(dict(type="rect", xref="x", yref="paper", x0=box_start, x1=box_end_upper,
                   y0=fy(1349), y1=fy(1028), line=dict(color="#1f497d", width=13)))
shapes.append(dict(type="rect", xref="x", yref="paper", x0=box_start, x1=box_end_cons,
                   y0=fy(1991), y1=fy(1365), line=dict(color="#800000", width=13)))

layout = dict(
    width=W, height=H, margin=dict(l=0, r=0, t=0, b=0),
    paper_bgcolor="white", plot_bgcolor="rgba(0,0,0,0)",
    showlegend=False, barmode="overlay", bargap=0,
    xaxis=dict(domain=[PANEL_LEFT / W, 1], range=[view_start, view_end], visible=False,
               fixedrange=True, anchor="y"),
    xaxis2=dict(domain=[0, 1], range=[0, W], visible=False, fixedrange=True, anchor="y15"),
    annotations=annotations, shapes=shapes,
)
layout.update(axes)
fig.update_layout(**layout)
fig.write_html("out.html", config={"displayModeBar": False})
